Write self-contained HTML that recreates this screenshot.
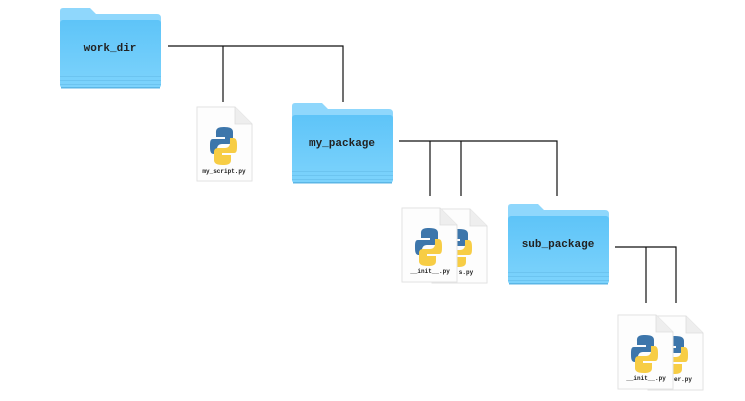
<!DOCTYPE html>
<html><head><style>
html,body{margin:0;padding:0;background:#fff;width:745px;height:401px;overflow:hidden}
text{font-family:"Liberation Mono",monospace;font-weight:bold;fill:#222}
</style></head><body>
<svg width="745" height="401" viewBox="0 0 745 401" xmlns="http://www.w3.org/2000/svg">
<defs>
<linearGradient id="fg" x1="0" y1="0" x2="0" y2="1">
<stop offset="0" stop-color="#5ec4f8"/><stop offset="1" stop-color="#7dd3fc"/>
</linearGradient>
<g id="folder">
<path d="M3,0 H30 L36,6 H97 Q101,6 101,10 V20 H0 V3 Q0,0 3,0Z" fill="#8fd7fc"/>
<rect x="0" y="12" width="101" height="68" rx="3" fill="url(#fg)"/>
<rect x="0" y="68" width="101" height="1" fill="#6cc4f0"/>
<rect x="0" y="72" width="101" height="1" fill="#6cc4f0"/>
<rect x="0" y="76" width="101" height="1" fill="#6cc4f0"/>
<rect x="1" y="79" width="99" height="1.5" fill="#5bb6e6"/>
</g>
<g id="file">
<path d="M0,0 H38 L55,17 V74 H0Z" fill="#fdfdfd" stroke="#e2e2e2" stroke-width="1"/>
<path d="M38,0 V17 H55" fill="#eee" stroke="#ddd" stroke-width="0.8"/>
<g transform="translate(13,20)">
<path d="M14,0 C6,0 6,3 6,6 V10 H15 V12 H3 C0,12 0,15 0,20 C0,25 1,27 4,27 H7 V22 C7,19 9,17 12,17 H19 C22,17 23,15 23,13 V5 C23,2 21,0 14,0Z" fill="#3d76ab"/>
<path d="M13,38 C21,38 21,35 21,32 V28 H12 V26 H24 C27,26 27,23 27,18 C27,13 26,11 23,11 H20 V16 C20,19 18,21 15,21 H8 C5,21 4,23 4,25 V33 C4,36 6,38 13,38Z" fill="#f7cd45"/>
</g>
</g>
</defs>
<g stroke="#111" stroke-width="1.2" fill="none">
<path d="M168,46 H343 V102 M223,46 V102"/>
<path d="M399,141 H557 V196 M430,141 V196 M461,141 V196"/>
<path d="M615,247 H676 V303 M646,247 V303"/>
</g>
<use href="#folder" x="60" y="8"/>
<text x="110" y="51" font-size="11" text-anchor="middle">work_dir</text>
<use href="#file" x="197" y="107"/>
<text x="224" y="173" font-size="6" text-anchor="middle">my_script.py</text>
<use href="#folder" x="292" y="103"/>
<text x="342" y="146" font-size="11" text-anchor="middle">my_package</text>
<use href="#file" x="432" y="209"/>
<text x="466" y="274" font-size="6" text-anchor="middle">s.py</text>
<use href="#file" x="402" y="208"/>
<text x="430" y="273" font-size="6" text-anchor="middle">__init__.py</text>
<use href="#folder" x="508" y="204"/>
<text x="558" y="247" font-size="11" text-anchor="middle">sub_package</text>
<use href="#file" x="648" y="316"/>
<text x="683" y="381" font-size="6" text-anchor="middle">er.py</text>
<use href="#file" x="618" y="315"/>
<text x="646" y="380" font-size="6" text-anchor="middle">__init__.py</text>
</svg>
</body></html>
